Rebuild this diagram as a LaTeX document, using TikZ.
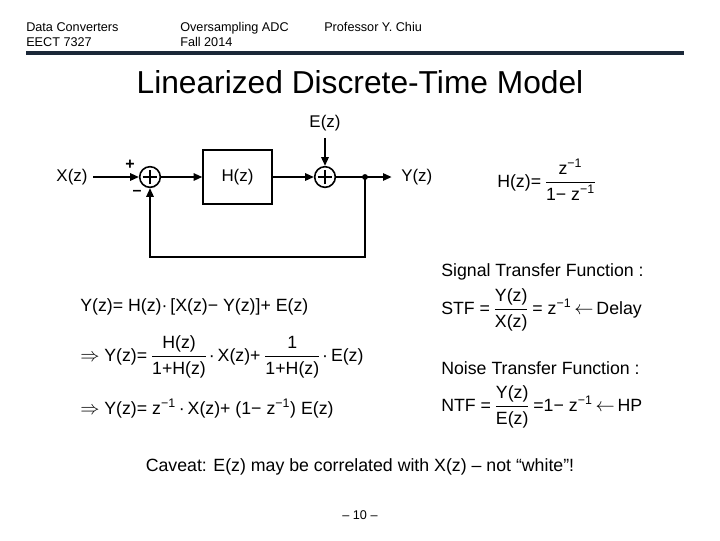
\documentclass[tikz,border=0pt]{standalone}
\usepackage{amsmath}
\usepackage{fontspec}
\setmainfont{Liberation Sans}
\usetikzlibrary{arrows.meta}
\definecolor{navy}{HTML}{1B2838}
\newcommand{\hdrfont}{\fontsize{9.5}{11.5}\selectfont}
\newcommand{\eqfont}{\fontsize{13.3}{16}\selectfont}
\newcommand{\fr}[2]{{\nulldelimiterspace=0pt$\dfrac{\text{#1}}{\text{#2}}$}}
\newcommand{\inv}{\textsuperscript{−1}}
\tikzset{
  hdr/.style={font=\hdrfont, anchor=base west, inner sep=0pt},
  lbl/.style={font=\fontsize{12.7}{15}\selectfont, inner sep=0pt},
  eqn/.style={font=\eqfont, anchor=base west, inner sep=0pt},
  sumnode/.style={circle, draw, line width=1.2pt, minimum size=15.5pt, inner sep=0pt,
    path picture={\draw[line width=1.2pt]
      ([xshift=-5.5pt]path picture bounding box.center) -- ([xshift=5.5pt]path picture bounding box.center)
      ([yshift=-5.5pt]path picture bounding box.center) -- ([yshift=5.5pt]path picture bounding box.center);}},
  blockbox/.style={draw, line width=1.3pt, minimum width=51.5pt, minimum height=40pt, font=\fontsize{12.7}{15}\selectfont},
  sig/.style={line width=1.3pt, -{Triangle[length=6.5pt,width=5.5pt]}},
}
\begin{document}
\begin{tikzpicture}[x=0.75pt,y=-0.75pt]
\useasboundingbox (0,0) rectangle (720,540);
% header
\node[hdr] (h1a) at (26,31) {Data Converters};
\node[hdr] (h1b) at (26,46) {EECT 7327};
\node[hdr] (h2a) at (180,31) {Oversampling ADC};
\node[hdr] (h2b) at (180,46) {Fall 2014};
\node[hdr] (h3) at (324,31) {Professor Y. Chiu};
\draw[navy, line width=2.3pt] (26,53) -- (684,53);
% title
\node[font=\fontsize{23.8}{28}\selectfont, inner sep=0pt] (title) at (360,82) {Linearized Discrete-Time Model};
% block diagram
\node[lbl] (X) at (72,177) {X(z)};
\node[sumnode] (s1) at (150,177) {};
\node[blockbox] (H) at (237.5,177) {H(z)};
\node[sumnode] (s2) at (325,177) {};
\node[lbl] (E) at (325,123) {E(z)};
\coordinate (d) at (365,177);
\node[lbl, anchor=west] (Y) at (401,177) {Y(z)};
\coordinate (fb) at (365,257);
\fill (d) circle (2.2pt);
\draw[sig] ([xshift=4pt]X.east) -- (s1.west);
\draw[sig] (s1.east) -- (H.west);
\draw[sig] (H.east) -- (s2.west);
\draw[sig] ([yshift=-5pt]E.south) -- (s2.north);
\draw[line width=1.3pt] (s2.east) -- (d);
\draw[sig] (d) -- ([xshift=-7pt]Y.west);
\draw[sig] (d) -- (fb) -| (s1.south);
\node[font=\fontsize{12}{14}\selectfont\bfseries, inner sep=0pt] (plus) at (130,165) {+};
\node[font=\fontsize{12}{14}\selectfont\bfseries, inner sep=0pt] (minus) at (137,193) {–};
% H(z) definition
\node[eqn] (hdef) at (497,187) {H(z)= \fr{z\inv}{1− z\inv}};
% left equations
\node[eqn] (eq1) at (80,311) {Y(z)= H(z)·\,[X(z)− Y(z)]+ E(z)};
\node[eqn] (eq2) at (80,361) {$\Rightarrow$ Y(z)= \fr{H(z)}{1+H(z)}\,·\,X(z)+ \fr{1}{1+H(z)}\,·\,E(z)};
\node[eqn] (eq3) at (80,414) {$\Rightarrow$ Y(z)= z\inv\,·\,X(z)+ (1− z\inv) E(z)};
% right equations
\node[eqn] (stfl) at (441,276) {Signal Transfer Function :};
\node[eqn] (stf) at (441,314) {STF = \fr{Y(z)}{X(z)} = z\inv\,$\leftarrow$\,Delay};
\node[eqn] (ntfl) at (441,374) {Noise Transfer Function :};
\node[eqn] (ntf) at (441,411) {NTF = \fr{Y(z)}{E(z)} =1− z\inv\,$\leftarrow$\,HP};
% caveat
\node[font=\eqfont, inner sep=0pt] (cav) at (360,467) {Caveat: E(z) may be correlated with X(z) – not “white”!};
\node[font=\hdrfont, inner sep=0pt] (pg) at (360,515) {– 10 –};
\end{tikzpicture}
\end{document}
